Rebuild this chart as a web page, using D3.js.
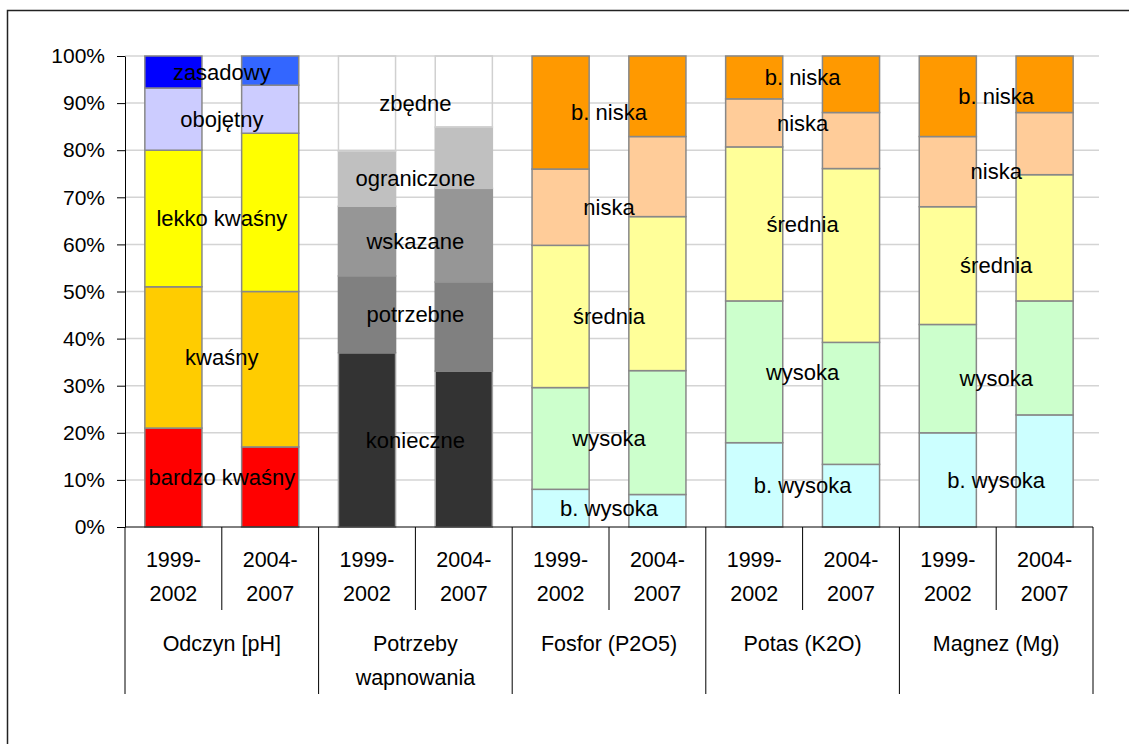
<!DOCTYPE html>
<html>
<head>
<meta charset="utf-8">
<script src="https://cdn.jsdelivr.net/npm/d3@7"></script>
<style>
  html, body { margin: 0; padding: 0; background: #fff; }
  svg { display: block; font-family: "Liberation Sans", Arial, sans-serif; }
</style>
</head>
<body>
<svg width="1129" height="744"></svg>
<script>
// Periods and groups on the category axis
const periods = [["1999-", "2002"], ["2004-", "2007"]];
const groupNames = [["Odczyn [pH]"], ["Potrzeby", "wapnowania"], ["Fosfor (P2O5)"], ["Potas (K2O)"], ["Magnez (Mg)"]];

// Classes, bottom to top, and shares in % per period
const phClasses = ["bardzo kwaśny", "kwaśny", "lekko kwaśny", "obojętny", "zasadowy"];
const phValues = [[21, 30, 29, 13.2, 6.8], [17, 33, 33.6, 10.2, 6.2]];

const limeClasses = ["konieczne", "potrzebne", "wskazane", "ograniczone", "zbędne"];
const limeValues = [[37, 16.3, 14.8, 11.7, 20.2], [33.1, 18.9, 19.9, 13, 15.1]];

const nutrientClasses = ["b. wysoka", "wysoka", "średnia", "niska", "b. niska"];
const phosphorusValues = [[8, 21.6, 30.2, 16.2, 24], [6.9, 26.3, 32.7, 17, 17.1]];
const potassiumValues = [[17.9, 30.1, 32.7, 10.2, 9.1], [13.3, 25.9, 36.9, 11.9, 12]];
const magnesiumValues = [[20, 23, 25, 14.9, 17.1], [23.8, 24.2, 26.8, 13.2, 12]];

const yTicks = [0, 10, 20, 30, 40, 50, 60, 70, 80, 90, 100];

// Colours (per period, bottom to top)
const phColors = [["#ff0000", "#ffcc00", "#ffff00", "#ccccff", "#0000ff"],
                  ["#ff0000", "#ffcc00", "#ffff00", "#ccccff", "#3366ff"]];
const limeFill = ["#333333", "#808080", "#969696", "#c0c0c0", "none"];
const limeStroke = ["#a0a0a0", "#808080", "#969696", "#c0c0c0", "#d0d0d0"];
const nutrientFill = ["#ccffff", "#ccffcc", "#ffff99", "#ffcc99", "#ff9900"];

const blocks = [
  { classes: phClasses, values: phValues, fill: (p, i) => phColors[p][i], stroke: () => "#888" },
  { classes: limeClasses, values: limeValues, fill: (p, i) => limeFill[i], stroke: (p, i) => limeStroke[i] },
  { classes: nutrientClasses, values: phosphorusValues, fill: (p, i) => nutrientFill[i], stroke: () => "#888" },
  { classes: nutrientClasses, values: potassiumValues, fill: (p, i) => nutrientFill[i], stroke: () => "#888" },
  { classes: nutrientClasses, values: magnesiumValues, fill: (p, i) => nutrientFill[i], stroke: () => "#888" }
];

const svg = d3.select("svg");

const plotLeft = 125, plotRight = 1093, plotTop = 56, plotBottom = 527;
const categories = blocks.flatMap((b, g) => periods.map((p, i) => g + "-" + i));

const x = d3.scaleBand().domain(categories).range([plotLeft, plotRight]).padding(0);
const y = d3.scaleLinear().domain([0, 100]).range([plotBottom, plotTop]);
const barW = x.bandwidth() * 0.59;

// outer frame
svg.append("path")
    .attr("d", "M7.5,744V10.5H1129")
    .attr("fill", "none")
    .attr("stroke", "#222")
    .attr("stroke-width", 1.5);

// gridlines
svg.append("g")
  .selectAll("line")
  .data(yTicks.slice(1))
  .join("line")
    .attr("x1", plotLeft).attr("x2", plotRight + 6)
    .attr("y1", d => y(d)).attr("y2", d => y(d))
    .attr("stroke", "#d4d4d4")
    .attr("stroke-width", 1.5);

// bars
blocks.forEach((b, g) => {
  const stack = d3.stack()
      .keys(d3.range(b.classes.length))
      .value((d, k) => d[k]);
  const series = stack(b.values);

  series.forEach((s, i) => {
    svg.append("g")
      .selectAll("rect")
      .data(s)
      .join("rect")
        .attr("x", (d, p) => x(g + "-" + p) + (x.bandwidth() - barW) / 2)
        .attr("y", d => y(d[1]))
        .attr("width", barW)
        .attr("height", d => y(d[0]) - y(d[1]))
        .attr("fill", (d, p) => b.fill(p, i))
        .attr("stroke", (d, p) => b.stroke(p, i))
        .attr("stroke-width", 1.5);
  });

  // class labels, centred on the group, at the middle of the first bar's segment
  const gx = (x(g + "-0") + x(g + "-1") + x.bandwidth()) / 2;
  svg.append("g")
    .selectAll("text")
    .data(series)
    .join("text")
      .attr("x", gx)
      .attr("y", s => y((s[0][0] + s[0][1]) / 2))
      .attr("dy", "0.35em")
      .attr("text-anchor", "middle")
      .attr("font-size", 22)
      .attr("fill", "#000")
      .text((s, i) => b.classes[i]);
});

// y axis
const yAxis = svg.append("g")
    .attr("transform", `translate(${plotLeft},0)`)
    .call(d3.axisLeft(y)
      .tickValues(yTicks)
      .tickFormat(d => d + "%")
      .tickSize(8)
      .tickSizeOuter(0)
      .tickPadding(12));
yAxis.attr("font-family", null);
yAxis.selectAll("text").attr("font-size", 21).attr("fill", "#000");
yAxis.selectAll("line, path").attr("stroke", "#000");

// category axis baseline
svg.append("line")
    .attr("x1", plotLeft).attr("x2", plotRight)
    .attr("y1", plotBottom).attr("y2", plotBottom)
    .attr("stroke", "#000");

// category dividers
const edges = categories.map(c => x(c)).concat([plotRight]);
svg.append("g")
  .selectAll("line")
  .data(edges)
  .join("line")
    .attr("x1", d => d).attr("x2", d => d)
    .attr("y1", plotBottom)
    .attr("y2", (d, i) => i % 2 === 0 ? 694 : 610)
    .attr("stroke", "#000");

// period labels
const periodText = svg.append("g")
  .selectAll("text")
  .data(categories)
  .join("text")
    .attr("x", c => x(c) + x.bandwidth() / 2)
    .attr("text-anchor", "middle")
    .attr("font-size", 21.5)
    .attr("fill", "#000");
periodText.selectAll("tspan")
  .data(c => periods[+c.split("-")[1]])
  .join("tspan")
    .attr("x", function () { return this.parentNode.getAttribute("x"); })
    .attr("y", (d, i) => 559 + i * 34)
    .attr("dy", "0.35em")
    .text(d => d);

// group labels
const groupText = svg.append("g")
  .selectAll("text")
  .data(groupNames)
  .join("text")
    .attr("x", (d, g) => (x(g + "-0") + x(g + "-1") + x.bandwidth()) / 2)
    .attr("text-anchor", "middle")
    .attr("font-size", 21.5)
    .attr("fill", "#000");
groupText.selectAll("tspan")
  .data(d => d)
  .join("tspan")
    .attr("x", function () { return this.parentNode.getAttribute("x"); })
    .attr("y", (d, i) => 643 + i * 34)
    .attr("dy", "0.35em")
    .text(d => d);
</script>
</body>
</html>
